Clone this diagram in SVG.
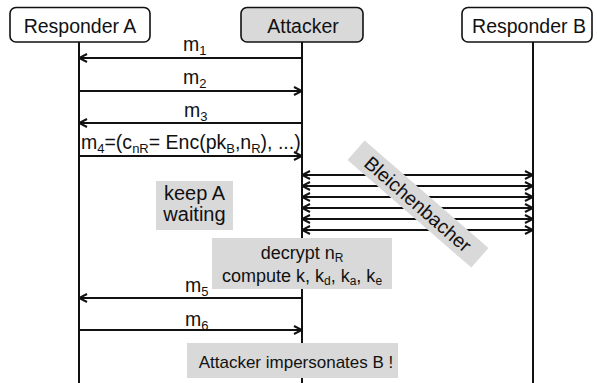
<svg xmlns="http://www.w3.org/2000/svg" width="597" height="383" viewBox="0 0 597 383">
<style>
text{font-family:"Liberation Sans",Arial,sans-serif;fill:#111}
.node{fill:#fff;stroke:#111;stroke-width:1.6}
.att{fill:#d9d9d9}
.life{stroke:#111;stroke-width:2}
.msg{stroke:#111;stroke-width:2;fill:none;marker-end:url(#ah)}
.dbl{stroke:#111;stroke-width:2;fill:none;marker-end:url(#ah);marker-start:url(#ah)}
.note{fill:#d9d9d9}
.lbl{font-size:19.5px}
.sub{font-size:13px}
</style>
<defs>
<marker id="ah" markerUnits="userSpaceOnUse" viewBox="0 0 10 10" refX="9" refY="5" markerWidth="10" markerHeight="10" orient="auto-start-reverse">
<path d="M1,1 L9,5 L1,9" fill="none" stroke="#111" stroke-width="2"/>
</marker>
</defs>

<g id="respA">
<line class="life" x1="79" y1="42" x2="79" y2="383"/>
<rect class="node" x="10" y="7.5" width="140" height="34.5" rx="6"/>
<text x="80" y="33" font-size="19.5" text-anchor="middle">Responder A</text>
</g>
<g id="attacker">
<line class="life" x1="302" y1="42" x2="302" y2="383"/>
<rect class="node att" x="241" y="7.5" width="122" height="34.5" rx="6"/>
<text x="303" y="33" font-size="19.5" text-anchor="middle">Attacker</text>
</g>
<g id="respB">
<line class="life" x1="533" y1="42" x2="533" y2="383"/>
<rect class="node" x="462" y="7.5" width="130" height="34.5" rx="6"/>
<text x="529" y="33" font-size="19.5" text-anchor="middle">Responder B</text>
</g>

<g id="connectors">
<line class="msg" x1="302" y1="58" x2="79" y2="58"/>
<line class="msg" x1="79" y1="91" x2="302" y2="91"/>
<line class="msg" x1="302" y1="123" x2="79" y2="123"/>
<line class="msg" x1="79" y1="156" x2="302" y2="156"/>
<line class="dbl" x1="302" y1="175" x2="533" y2="175"/>
<line class="dbl" x1="302" y1="186" x2="533" y2="186"/>
<line class="dbl" x1="302" y1="197" x2="533" y2="197"/>
<line class="dbl" x1="302" y1="208" x2="533" y2="208"/>
<line class="dbl" x1="302" y1="219" x2="533" y2="219"/>
<line class="dbl" x1="302" y1="230" x2="533" y2="230"/>
<line class="msg" x1="302" y1="298" x2="79" y2="298"/>
<line class="msg" x1="79" y1="330" x2="302" y2="330"/>
<text class="lbl" x="183" y="51">m<tspan class="sub" dy="4">1</tspan></text>
<text class="lbl" x="183" y="84">m<tspan class="sub" dy="4">2</tspan></text>
<text class="lbl" x="184" y="116.5">m<tspan class="sub" dy="4">3</tspan></text>
<text class="lbl" x="81" y="148.5">m<tspan class="sub" dy="4">4</tspan><tspan dy="-4">=(c</tspan><tspan class="sub" dy="4">nR</tspan><tspan dy="-4">= Enc(pk</tspan><tspan class="sub" dy="4">B</tspan><tspan dy="-4">,n</tspan><tspan class="sub" dy="4">R</tspan><tspan dy="-4">), ...)</tspan></text>
<text class="lbl" x="185" y="291.5">m<tspan class="sub" dy="4">5</tspan></text>
<text class="lbl" x="185" y="326">m<tspan class="sub" dy="4">6</tspan></text>
</g>

<g id="keepA">
<rect class="note" x="156" y="181" width="77" height="49"/>
<text x="194.5" y="200" font-size="20" text-anchor="middle">keep A</text>
<text x="194.5" y="220.5" font-size="20" text-anchor="middle">waiting</text>
</g>
<g id="bleichenbacher" transform="translate(418,204) rotate(41)">
<rect class="note" x="-82" y="-13" width="164" height="26"/>
<text x="0" y="7" font-size="19.5" text-anchor="middle">Bleichenbacher</text>
</g>
<g id="decrypt">
<rect class="note" x="212" y="238" width="180" height="51"/>
<text x="302" y="259" font-size="18" text-anchor="middle">decrypt n<tspan font-size="12" dy="3">R</tspan></text>
<text x="302" y="282" font-size="18" text-anchor="middle">compute k, k<tspan font-size="12" dy="3">d</tspan><tspan dy="-3">, k</tspan><tspan font-size="12" dy="3">a</tspan><tspan dy="-3">, k</tspan><tspan font-size="12" dy="3">e</tspan></text>
</g>
<g id="impersonates">
<rect class="note" x="187" y="343" width="211" height="35"/>
<text x="296" y="368" font-size="17" text-anchor="middle">Attacker impersonates B !</text>
</g>
</svg>
